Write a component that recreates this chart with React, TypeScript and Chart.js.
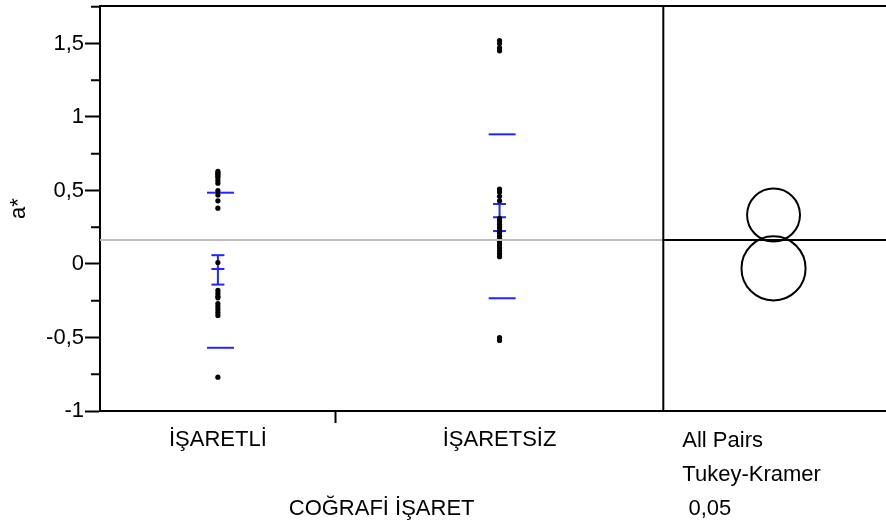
import React, { useEffect, useRef } from 'react';
import { Chart, registerables } from 'chart.js';

Chart.register(...registerables);

const FONT = '"Liberation Sans", Arial, Helvetica, sans-serif';
const BLUE = '#2424ff';

// ---- data ----
const groups = ['İŞARETLİ', 'İŞARETSİZ'];
const groupSizes = [18, 25];
const isaretliValues = [0.63, 0.62, 0.61, 0.6, 0.59, 0.57, 0.55, 0.5, 0.47, 0.43, 0.38, 0.01, -0.18, -0.2, -0.22, -0.23, -0.27, -0.29, -0.31, -0.33, -0.35, -0.77];
const isaretsizValues = [1.52, 1.5, 1.47, 1.45, 0.51, 0.49, 0.46, 0.43, 0.31, 0.29, 0.27, 0.25, 0.23, 0.21, 0.19, 0.17, 0.15, 0.13, 0.11, 0.09, 0.07, 0.05, -0.5, -0.52];
const means = [-0.034, 0.318];
const ciLower = [-0.14, 0.224];
const ciUpper = [0.06, 0.408];
const sdLower = [-0.57, -0.233];
const sdUpper = [0.485, 0.882];
const grandMean = 0.163;
const circleCenters = [-0.03, 0.333];
const circleRadii = [0.218, 0.18];
const yTickValues = [-1, -0.5, 0, 0.5, 1, 1.5];
const yMinorValues = [-0.75, -0.25, 0.25, 0.75, 1.25, 1.75];
const yMin = -1;
const yMax = 1.755;
const rightPanelUnits = 17;
const xAxisTitle = 'COĞRAFİ İŞARET';
const yAxisTitle = 'a*';
const testLabels = ['All Pairs', 'Tukey-Kramer', ' 0,05'];

export default function App() {
  const ref = useRef<HTMLCanvasElement | null>(null);

  useEffect(() => {
    const n1 = groupSizes[0];
    const n2 = groupSizes[1];
    const leftEnd = n1 + n2;
    const xMax = leftEnd + rightPanelUnits;
    const centers = [n1 / 2, n1 + n2 / 2];
    const circleX = leftEnd + rightPanelUnits * 0.495;

    const panelPlugin = {
      id: 'panelPlugin',
      afterDraw(chart: any) {
        const { ctx, chartArea, scales } = chart;
        const xs = scales.x;
        const ys = scales.y;
        ctx.save();
        ctx.strokeStyle = '#000';
        ctx.lineWidth = 2;
        // top border
        ctx.beginPath();
        ctx.moveTo(chartArea.left - 1, chartArea.top);
        ctx.lineTo(chartArea.right, chartArea.top);
        ctx.stroke();
        // separator
        const sx = xs.getPixelForValue(leftEnd);
        ctx.beginPath();
        ctx.moveTo(sx, chartArea.top);
        ctx.lineTo(sx, chartArea.bottom);
        ctx.stroke();
        // minor ticks
        yMinorValues.forEach((v) => {
          const py = ys.getPixelForValue(v);
          ctx.beginPath();
          ctx.moveTo(chartArea.left - 9, py);
          ctx.lineTo(chartArea.left, py);
          ctx.stroke();
        });
        // comparison circles
        const cx = xs.getPixelForValue(circleX);
        circleCenters.forEach((c, i) => {
          const cy = ys.getPixelForValue(c);
          const r = Math.abs(ys.getPixelForValue(c + circleRadii[i]) - cy);
          ctx.beginPath();
          ctx.arc(cx, cy, r, 0, Math.PI * 2);
          ctx.stroke();
        });
        // texts
        ctx.fillStyle = '#000';
        ctx.font = `22px ${FONT}`;
        ctx.textBaseline = 'middle';
        ctx.textAlign = 'center';
        ctx.fillText(xAxisTitle, xs.getPixelForValue(leftEnd / 2), 509);
        ctx.textAlign = 'left';
        const tx = xs.getPixelForValue(leftEnd + 1.45);
        testLabels.forEach((t, i) => {
          ctx.fillText(t, tx, 441 + i * 34);
        });
        ctx.restore();
      },
    };

    const pts = (x: number, vals: number[]) => vals.map((v) => ({ x, y: v }));

    const chart = new Chart(ref.current as HTMLCanvasElement, {
      type: 'scatter',
      data: {
        datasets: [
          {
            type: 'line',
            data: [{ x: 0, y: grandMean }, { x: leftEnd, y: grandMean }],
            borderColor: '#bdbdbd',
            borderWidth: 2,
            pointRadius: 0,
          } as any,
          {
            type: 'line',
            data: [{ x: leftEnd, y: grandMean }, { x: xMax, y: grandMean }],
            borderColor: '#000',
            borderWidth: 2,
            pointRadius: 0,
          } as any,
          {
            data: [...pts(centers[0], isaretliValues), ...pts(centers[1], isaretsizValues)],
            backgroundColor: '#000',
            borderColor: '#000',
            borderWidth: 0,
            pointRadius: 2.6,
          },
          {
            data: [
              { x: centers[0] + 0.2, y: sdUpper[0] }, { x: centers[0] + 0.2, y: sdLower[0] },
              { x: centers[1] + 0.2, y: sdUpper[1] }, { x: centers[1] + 0.2, y: sdLower[1] },
            ],
            pointStyle: 'line',
            pointRadius: 13.5,
            borderColor: BLUE,
            borderWidth: 2,
          },
          ...centers.map((c, i) => ({
            type: 'line',
            data: [{ x: c, y: ciUpper[i] }, { x: c, y: ciLower[i] }],
            borderColor: BLUE,
            borderWidth: 2,
            pointStyle: 'line',
            pointRadius: 6.5,
            pointBorderColor: BLUE,
            pointBorderWidth: 2,
          } as any)),
          {
            data: centers.map((c, i) => ({ x: c, y: means[i] })),
            pointStyle: 'line',
            pointRadius: 6.5,
            borderColor: BLUE,
            borderWidth: 2,
          },
        ],
      },
      options: {
        responsive: false,
        animation: false,
        layout: { autoPadding: false, padding: { top: 6, left: 0, right: 0, bottom: 0 } },
        plugins: { legend: { display: false }, tooltip: { enabled: false } },
        scales: {
          x: {
            type: 'linear',
            min: 0,
            max: xMax,
            afterBuildTicks: (s: any) => {
              s.ticks = [{ value: centers[0] }, { value: n1 }, { value: centers[1] }];
            },
            afterFit: (s: any) => {
              s.height = 119;
              s.paddingLeft = 0;
              s.paddingRight = 0;
              s.paddingTop = 0;
              s.paddingBottom = 0;
            },
            ticks: {
              autoSkip: false,
              maxRotation: 0,
              padding: 4,
              color: '#000',
              font: { family: FONT, size: 22 },
              callback: (v: any) => (v === centers[0] ? groups[0] : v === centers[1] ? groups[1] : ''),
            },
            grid: {
              drawOnChartArea: false,
              drawTicks: true,
              tickLength: 12,
              tickWidth: 2,
              tickColor: (ctx: any) => (ctx.tick && ctx.tick.value === n1 ? '#000' : 'rgba(0,0,0,0)'),
            },
            border: { display: true, color: '#000', width: 2 },
          },
          y: {
            type: 'linear',
            min: yMin,
            max: yMax,
            afterBuildTicks: (s: any) => {
              s.ticks = yTickValues.map((v) => ({ value: v }));
            },
            afterFit: (s: any) => {
              s.width = 100;
              s.paddingLeft = 0;
              s.paddingRight = 0;
              s.paddingTop = 0;
              s.paddingBottom = 0;
            },
            ticks: {
              padding: 1,
              color: '#000',
              font: { family: FONT, size: 22 },
              callback: (v: any) => String(v).replace('.', ','),
            },
            grid: {
              drawOnChartArea: false,
              drawTicks: true,
              tickLength: 15,
              tickWidth: 2,
              tickColor: '#000',
            },
            border: { display: true, color: '#000', width: 2 },
            title: {
              display: true,
              text: yAxisTitle,
              color: '#000',
              font: { family: FONT, size: 22 },
              padding: { top: 6, bottom: 0 },
            },
          },
        },
      },
      plugins: [panelPlugin],
    } as any);
    return () => chart.destroy();
  }, []);

  return (
    <div style={{ position: 'absolute', left: 0, top: 0, width: 886, height: 530, background: '#fff' }}>
      <canvas ref={ref} width={886} height={530} />
    </div>
  );
}
